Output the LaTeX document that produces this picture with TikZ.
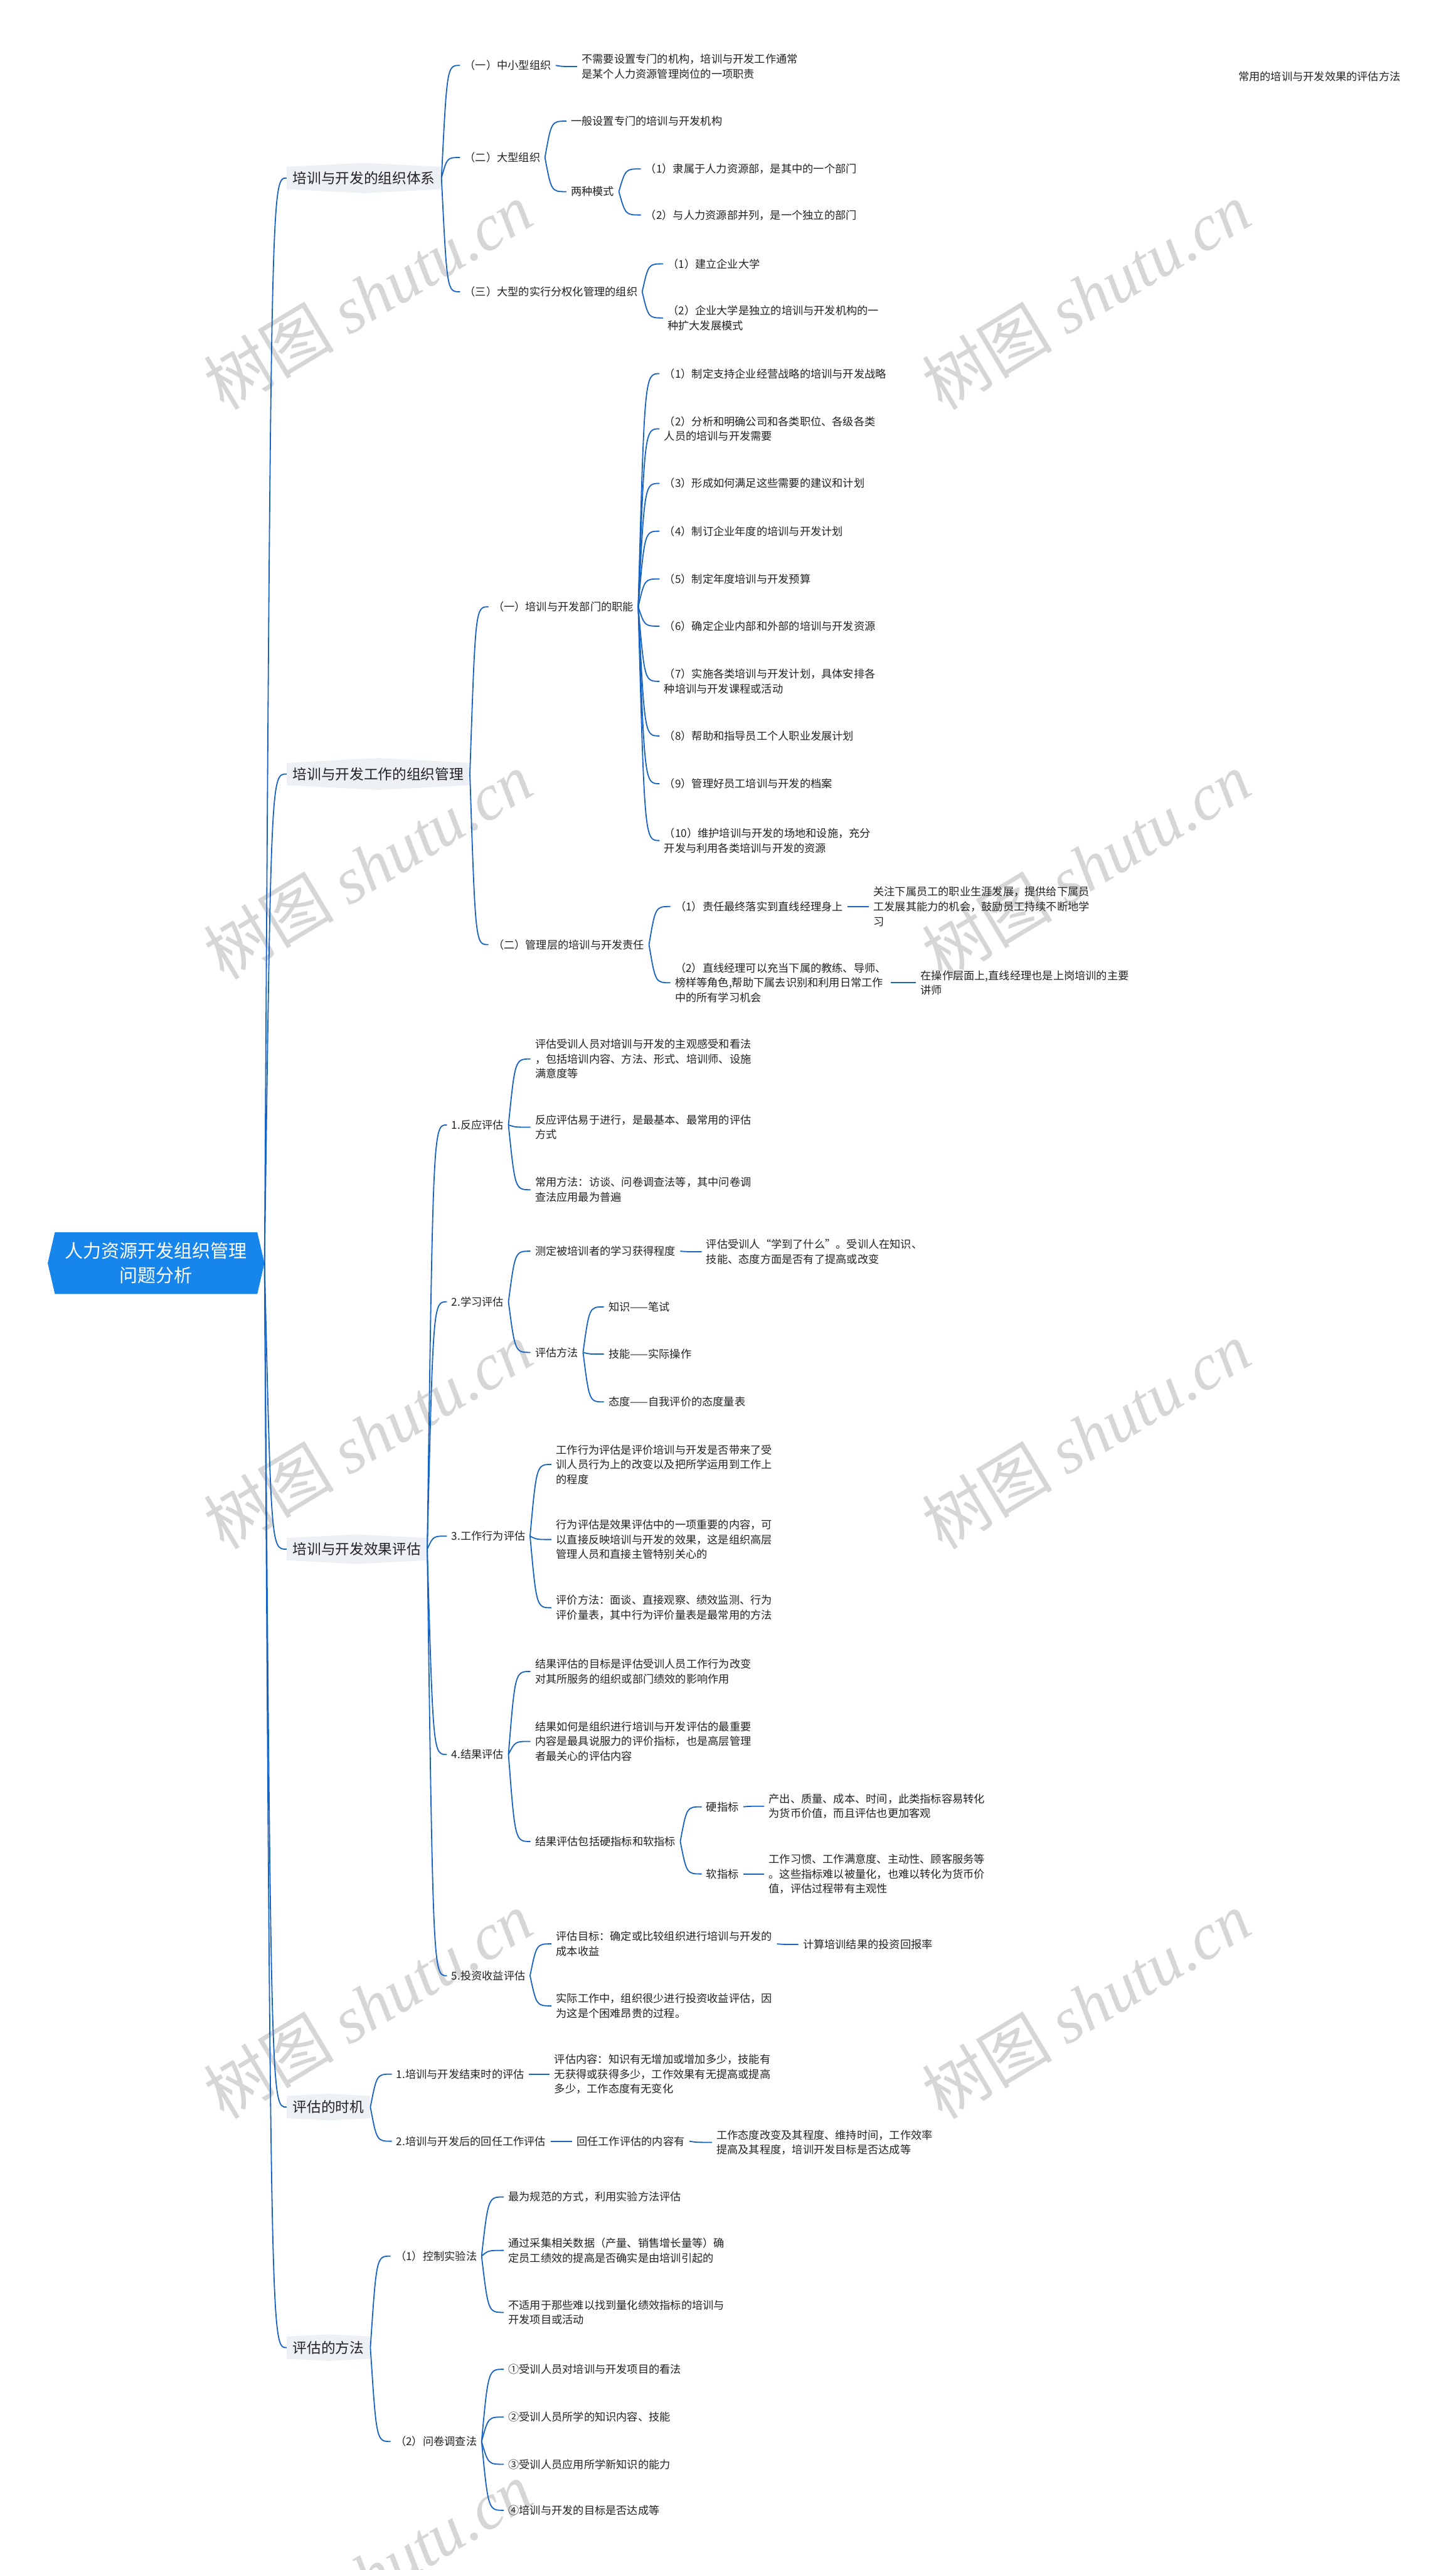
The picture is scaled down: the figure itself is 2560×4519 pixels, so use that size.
\documentclass[tikz,border=0pt]{standalone}
\usepackage{fontspec}
\setmainfont{Noto Sans CJK SC}
\newfontfamily\wmlatin{Liberation Serif}
\usetikzlibrary{calc,shapes.symbols}

\definecolor{linkblue}{HTML}{1763C2}
\definecolor{rootblue}{HTML}{1685EC}
\definecolor{topicgrey}{HTML}{EDF0F5}
\definecolor{inkgrey}{HTML}{222222}
\definecolor{markgrey}{HTML}{D6D6D6}

% curved mind-map branch from the east side of #1 to the west side of #2
\newcommand\bough[2]{%
  \draw[link] let \p1=(#1.east), \p2=(#2.west) in
    (\p1) .. controls ({0.7*\x1+0.3*\x2},\y2) .. (\p2);}

\begin{document}
\begin{tikzpicture}[
      x=1pt, y=-1pt,
      root/.style={signal, signal to=west and east, signal pointer angle=154, fill=rootblue, text=white, align=center, font=\fontsize{32pt}{43pt}\selectfont, inner xsep=18pt, inner ysep=18pt},
      topic/.style={signal, signal to=north and south, signal pointer angle=174, fill=topicgrey, text=inkgrey, anchor=west, font=\fontsize{25pt}{30pt}\selectfont, inner xsep=11pt, inner ysep=8pt},
      leaf/.style={anchor=west, align=left, text=inkgrey, font=\fontsize{19pt}{26pt}\selectfont, inner xsep=8pt, inner ysep=2pt},
      link/.style={draw=linkblue, line width=2pt},
      wmark/.style={text=markgrey, rotate=31, font=\fontsize{115pt}{115pt}\selectfont}
  ]
      \useasboundingbox (0,0) rectangle (2560,4519);
      \fill[white] (0,0) rectangle (2560,4519);

      % WATERMARKS
      \foreach \wx/\wy [count=\k] in {647/520, 1910/520, 647/1522, 1910/1522, 647/2524, 1910/2524, 647/3526, 1910/3526, 647/4528}
        \node[wmark] (wm\k) at (\wx,\wy) {树图 {\wmlatin\itshape shutu.cn}};

      \node[leaf] (title) at (2170,135) {常用的培训与开发效果的评估方法};

      % ROOT
      \node[root] (root) at (274.5,2221) {人力资源开发组织管理\\问题分析};

      % BRANCH 1
      \node[topic] (orgsys) at (504,313) {培训与开发的组织体系};
      \node[leaf] (small) at (809,115) {（一）中小型组织};
      \node[leaf] (smallnote) at (1015,117) {不需要设置专门的机构，培训与开发工作通常\\是某个人力资源管理岗位的一项职责};
      \node[leaf] (large) at (809,277) {（二）大型组织};
      \node[leaf] (largeset) at (996,213) {一般设置专门的培训与开发机构};
      \node[leaf] (modes) at (996,337) {两种模式};
      \node[leaf] (modeA) at (1127,297) {（1）隶属于人力资源部，是其中的一个部门};
      \node[leaf] (modeB) at (1127,378) {（2）与人力资源部并列，是一个独立的部门};
      \node[leaf] (divis) at (809,513) {（三）大型的实行分权化管理的组织};
      \node[leaf] (divA) at (1166,464) {（1）建立企业大学};
      \node[leaf] (divB) at (1166,559) {（2）企业大学是独立的培训与开发机构的一\\种扩大发展模式};

      \foreach \a/\b in {root/orgsys, orgsys/small, orgsys/large, orgsys/divis, small/smallnote,
                         large/largeset, large/modes, modes/modeA, modes/modeB, divis/divA, divis/divB}
        \bough{\a}{\b};

      % BRANCH 2
      \node[topic] (orgmgmt) at (504,1361) {培训与开发工作的组织管理};
      \node[leaf] (dept) at (859,1067) {（一）培训与开发部门的职能};
      \node[leaf] (d1) at (1160,657) {（1）制定支持企业经营战略的培训与开发战略};
      \node[leaf] (d2) at (1160,754) {（2）分析和明确公司和各类职位、各级各类\\人员的培训与开发需要};
      \node[leaf] (d3) at (1160,850) {（3）形成如何满足这些需要的建议和计划};
      \node[leaf] (d4) at (1160,934) {（4）制订企业年度的培训与开发计划};
      \node[leaf] (d5) at (1160,1018) {（5）制定年度培训与开发预算};
      \node[leaf] (d6) at (1160,1101) {（6）确定企业内部和外部的培训与开发资源};
      \node[leaf] (d7) at (1160,1198) {（7）实施各类培训与开发计划，具体安排各\\种培训与开发课程或活动};
      \node[leaf] (d8) at (1160,1294) {（8）帮助和指导员工个人职业发展计划};
      \node[leaf] (d9) at (1160,1378) {（9）管理好员工培训与开发的档案};
      \node[leaf] (d10) at (1160,1478) {（10）维护培训与开发的场地和设施，充分\\开发与利用各类培训与开发的资源};
      \node[leaf] (mgr) at (859,1661) {（二）管理层的培训与开发责任};
      \node[leaf] (m1) at (1179,1594) {（1）责任最终落实到直线经理身上};
      \node[leaf] (m1note) at (1528,1594) {关注下属员工的职业生涯发展，提供给下属员\\工发展其能力的机会，鼓励员工持续不断地学\\习};
      \node[leaf] (m2) at (1179,1728) {（2）直线经理可以充当下属的教练、导师、\\榜样等角色,帮助下属去识别和利用日常工作\\中的所有学习机会};
      \node[leaf] (m2note) at (1611,1728) {在操作层面上,直线经理也是上岗培训的主要\\讲师};

      \foreach \a/\b in {root/orgmgmt, orgmgmt/dept, orgmgmt/mgr, dept/d1, dept/d2, dept/d3, dept/d4, dept/d5,
                         dept/d6, dept/d7, dept/d8, dept/d9, dept/d10, mgr/m1, mgr/m2, m1/m1note, m2/m2note}
        \bough{\a}{\b};

      % BRANCH 3
      \node[topic] (effect) at (504,2724) {培训与开发效果评估};
      \node[leaf] (react) at (786,1978) {1.反应评估};
      \node[leaf] (r1) at (933,1862) {评估受训人员对培训与开发的主观感受和看法\\，包括培训内容、方法、形式、培训师、设施\\满意度等};
      \node[leaf] (r2) at (933,1982) {反应评估易于进行，是最基本、最常用的评估\\方式};
      \node[leaf] (r3) at (933,2092) {常用方法：访谈、问卷调查法等，其中问卷调\\查法应用最为普遍};
      \node[leaf] (learn) at (786,2289) {2.学习评估};
      \node[leaf] (l1) at (933,2200) {测定被培训者的学习获得程度};
      \node[leaf] (l1note) at (1234,2201) {评估受训人“学到了什么”。受训人在知识、\\技能、态度方面是否有了提高或改变};
      \node[leaf] (l2) at (933,2378) {评估方法};
      \node[leaf] (l2a) at (1062,2298) {知识——笔试};
      \node[leaf] (l2b) at (1062,2381) {技能——实际操作};
      \node[leaf] (l2c) at (1062,2465) {态度——自我评价的态度量表};
      \node[leaf] (behav) at (786,2701) {3.工作行为评估};
      \node[leaf] (b1) at (970,2575) {工作行为评估是评价培训与开发是否带来了受\\训人员行为上的改变以及把所学运用到工作上\\的程度};
      \node[leaf] (b2) at (970,2707) {行为评估是效果评估中的一项重要的内容，可\\以直接反映培训与开发的效果，这是组织高层\\管理人员和直接主管特别关心的};
      \node[leaf] (b3) at (970,2827) {评价方法：面谈、直接观察、绩效监测、行为\\评价量表，其中行为评价量表是最常用的方法};
      \node[leaf] (result) at (786,3085) {4.结果评估};
      \node[leaf] (s1) at (933,2939) {结果评估的目标是评估受训人员工作行为改变\\对其所服务的组织或部门绩效的影响作用};
      \node[leaf] (s2) at (933,3062) {结果如何是组织进行培训与开发评估的最重要\\内容是最具说服力的评价指标，也是高层管理\\者最关心的评估内容};
      \node[leaf] (s3) at (933,3238) {结果评估包括硬指标和软指标};
      \node[leaf] (hard) at (1234,3177) {硬指标};
      \node[leaf] (hardnote) at (1344,3176) {产出、质量、成本、时间，此类指标容易转化\\为货币价值，而且评估也更加客观};
      \node[leaf] (soft) at (1234,3295) {软指标};
      \node[leaf] (softnote) at (1344,3295) {工作习惯、工作满意度、主动性、顾客服务等\\。这些指标难以被量化，也难以转化为货币价\\值，评估过程带有主观性};
      \node[leaf] (roi) at (786,3474) {5.投资收益评估};
      \node[leaf] (o1) at (970,3418) {评估目标：确定或比较组织进行培训与开发的\\成本收益};
      \node[leaf] (o1note) at (1404,3419) {计算培训结果的投资回报率};
      \node[leaf] (o2) at (970,3527) {实际工作中，组织很少进行投资收益评估，因\\为这是个困难昂贵的过程。};

      \foreach \a/\b in {root/effect, effect/react, effect/learn, effect/behav, effect/result, effect/roi,
                         react/r1, react/r2, react/r3, learn/l1, learn/l2, l1/l1note, l2/l2a, l2/l2b, l2/l2c,
                         behav/b1, behav/b2, behav/b3, result/s1, result/s2, result/s3, s3/hard, s3/soft,
                         hard/hardnote, soft/softnote, roi/o1, roi/o2, o1/o1note}
        \bough{\a}{\b};

      % BRANCH 4
      \node[topic] (timing) at (504,3705) {评估的时机};
      \node[leaf] (t1) at (689,3647) {1.培训与开发结束时的评估};
      \node[leaf] (t1note) at (967,3647) {评估内容：知识有无增加或增加多少，技能有\\无获得或获得多少，工作效果有无提高或提高\\多少，工作态度有无变化};
      \node[leaf] (t2) at (689,3765) {2.培训与开发后的回任工作评估};
      \node[leaf] (t2a) at (1006,3765) {回任工作评估的内容有};
      \node[leaf] (t2note) at (1252,3767) {工作态度改变及其程度、维持时间，工作效率\\提高及其程度，培训开发目标是否达成等};

      \foreach \a/\b in {root/timing, timing/t1, timing/t2, t1/t1note, t2/t2a, t2a/t2note}
        \bough{\a}{\b};

      % BRANCH 5
      \node[topic] (method) at (504,4128) {评估的方法};
      \node[leaf] (ctrl) at (687,3967) {（1）控制实验法};
      \node[leaf] (c1) at (886,3863) {最为规范的方式，利用实验方法评估};
      \node[leaf] (c2) at (886,3957) {通过采集相关数据（产量、销售增长量等）确\\定员工绩效的提高是否确实是由培训引起的};
      \node[leaf] (c3) at (886,4066) {不适用于那些难以找到量化绩效指标的培训与\\开发项目或活动};
      \node[leaf] (quest) at (687,4293) {（2）问卷调查法};
      \node[leaf] (q1) at (886,4166) {①受训人员对培训与开发项目的看法};
      \node[leaf] (q2) at (886,4250) {②受训人员所学的知识内容、技能};
      \node[leaf] (q3) at (886,4333) {③受训人员应用所学新知识的能力};
      \node[leaf] (q4) at (886,4414) {④培训与开发的目标是否达成等};

      \foreach \a/\b in {root/method, method/ctrl, method/quest, ctrl/c1, ctrl/c2, ctrl/c3,
                         quest/q1, quest/q2, quest/q3, quest/q4}
        \bough{\a}{\b};
  \end{tikzpicture}
\end{document}
